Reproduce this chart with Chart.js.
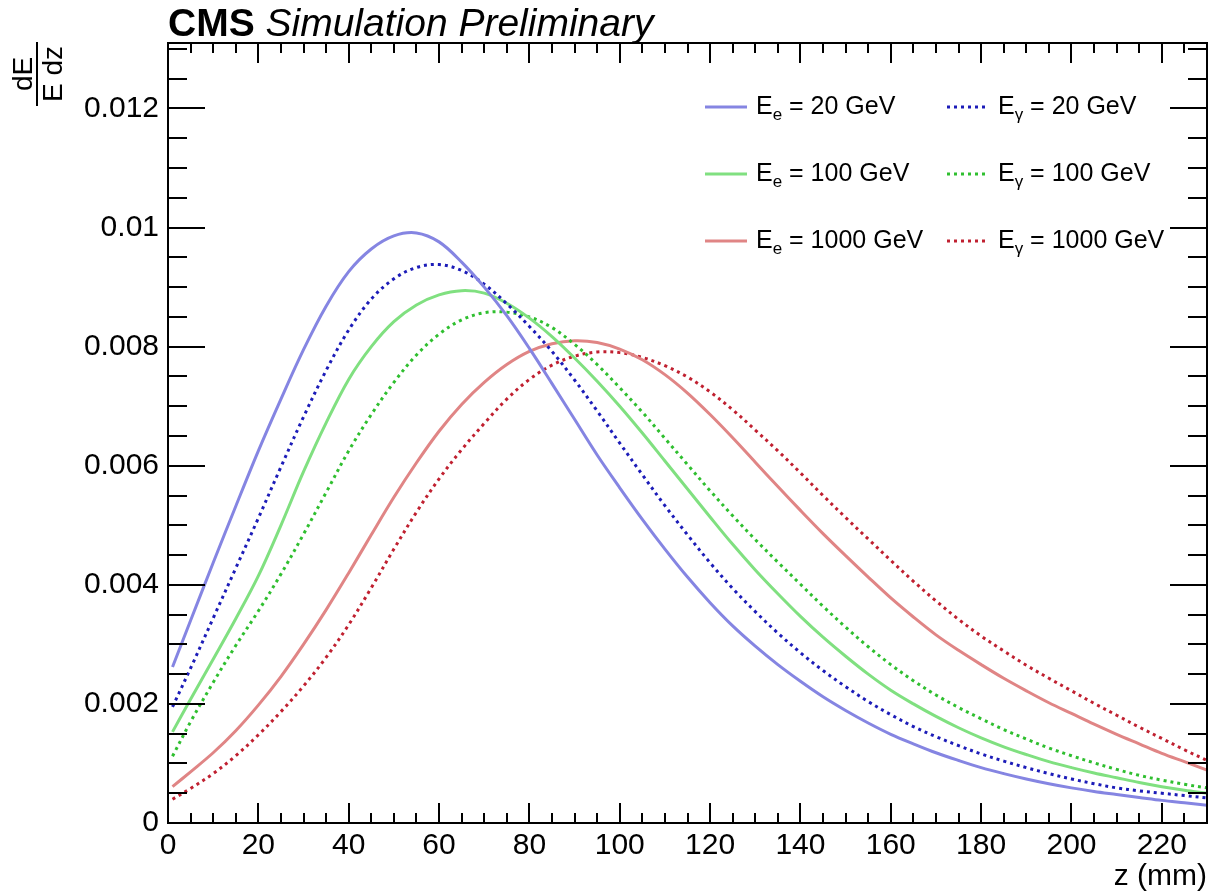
<!DOCTYPE html>
<html>
<head>
<meta charset="utf-8">
<script src="https://cdn.jsdelivr.net/npm/chart.js@4.4.1/dist/chart.umd.min.js"></script>
<style>
html,body{margin:0;padding:0;background:#ffffff;}
#wrap{width:1210px;height:891px;position:relative;}
</style>
</head>
<body>
<div id="wrap"><canvas id="c" width="1210" height="891"></canvas></div>
<script>
// ---- data ----
const zValues = [1,5,10,15,20,25,30,35,40,45,50,55,60,65,70,75,80,85,90,95,100,105,110,115,120,125,130,135,140,145,150,155,160,165,170,175,180,185,190,195,200,205,210,215,220,225,230];

const electron20 = [0.00262,0.00340,0.00437,0.00532,0.00625,0.00712,0.00795,0.00868,0.00926,0.00964,0.00986,0.00991,0.00976,0.00942,0.00900,0.00852,0.00797,0.00738,0.00678,0.00618,0.00563,0.00510,0.00460,0.00413,0.00370,0.00331,0.00297,0.00266,0.00238,0.00212,0.00189,0.00168,0.00149,0.00133,0.00118,0.00105,0.00093,0.00083,0.00074,0.00066,0.00059,0.00053,0.00048,0.00043,0.00038,0.00034,0.00030];
const photon20 = [0.00195,0.00260,0.00344,0.00428,0.00512,0.00598,0.00682,0.00760,0.00828,0.00880,0.00914,0.00933,0.00938,0.00928,0.00905,0.00872,0.00834,0.00792,0.00744,0.00692,0.00638,0.00585,0.00533,0.00484,0.00437,0.00394,0.00355,0.00319,0.00286,0.00256,0.00229,0.00204,0.00182,0.00162,0.00145,0.00130,0.00116,0.00104,0.00093,0.00083,0.00074,0.00066,0.00059,0.00054,0.00050,0.00046,0.00042];
const electron100 = [0.00153,0.00208,0.00275,0.00343,0.00415,0.00500,0.00590,0.00672,0.00745,0.00800,0.00842,0.00870,0.00887,0.00894,0.00890,0.00873,0.00848,0.00817,0.00781,0.00742,0.00700,0.00655,0.00608,0.00561,0.00514,0.00468,0.00425,0.00385,0.00347,0.00312,0.00280,0.00250,0.00223,0.00200,0.00179,0.00160,0.00143,0.00128,0.00115,0.00103,0.00093,0.00084,0.00076,0.00068,0.00061,0.00055,0.00050];
const photon100 = [0.00112,0.00170,0.00236,0.00298,0.00356,0.00418,0.00485,0.00555,0.00625,0.00686,0.00740,0.00786,0.00821,0.00845,0.00857,0.00858,0.00850,0.00832,0.00804,0.00770,0.00731,0.00690,0.00646,0.00602,0.00558,0.00516,0.00476,0.00438,0.00401,0.00364,0.00329,0.00296,0.00266,0.00239,0.00215,0.00194,0.00175,0.00157,0.00141,0.00126,0.00113,0.00101,0.00090,0.00080,0.00072,0.00065,0.00059];
const electron1000 = [0.00061,0.00086,0.00118,0.00155,0.00198,0.00246,0.00300,0.00358,0.00420,0.00484,0.00547,0.00605,0.00658,0.00703,0.00740,0.00770,0.00792,0.00805,0.00810,0.00807,0.00796,0.00778,0.00753,0.00722,0.00686,0.00647,0.00606,0.00565,0.00525,0.00486,0.00449,0.00413,0.00378,0.00346,0.00316,0.00290,0.00266,0.00243,0.00222,0.00202,0.00184,0.00166,0.00149,0.00133,0.00117,0.00103,0.00089];
const photon1000 = [0.00040,0.00058,0.00083,0.00113,0.00148,0.00187,0.00230,0.00278,0.00333,0.00395,0.00460,0.00522,0.00578,0.00627,0.00671,0.00712,0.00745,0.00769,0.00784,0.00791,0.00790,0.00782,0.00768,0.00749,0.00724,0.00694,0.00660,0.00625,0.00588,0.00550,0.00513,0.00477,0.00441,0.00406,0.00373,0.00342,0.00314,0.00289,0.00265,0.00243,0.00222,0.00201,0.00181,0.00161,0.00142,0.00123,0.00105];

const seriesNames = ['E_e = 20 GeV','E_γ = 20 GeV','E_e = 100 GeV','E_γ = 100 GeV','E_e = 1000 GeV','E_γ = 1000 GeV'];
const legendSub = ['e','γ','e','γ','e','γ'];
const legendRest = [' = 20 GeV',' = 20 GeV',' = 100 GeV',' = 100 GeV',' = 1000 GeV',' = 1000 GeV'];

const xTickValues = [0,20,40,60,80,100,120,140,160,180,200,220];
const xTickLabels = ['0','20','40','60','80','100','120','140','160','180','200','220'];
const yTickValues = [0,0.002,0.004,0.006,0.008,0.010,0.012];
const yTickLabels = ['0','0.002','0.004','0.006','0.008','0.01','0.012'];
const xRange = [0, 230];
const yRange = [0, 0.0131];

// ---- styles ----
const colors = ['#8585e2','#1c1cb8','#80e080','#2fbf2f','#e08585','#c02030'];
const dashed = [false,true,false,true,false,true];
const seriesData = [electron20, photon20, electron100, photon100, electron1000, photon1000];

const FONT = '"Liberation Sans", Arial, Helvetica, sans-serif';

const datasets = seriesData.map((arr, i) => ({
  label: seriesNames[i],
  data: zValues.map((z, k) => ({x: z, y: arr[k]})),
  borderColor: colors[i],
  backgroundColor: colors[i],
  borderWidth: 3,
  borderDash: dashed[i] ? [3, 4] : [],
  borderCapStyle: 'butt',
  pointRadius: 0,
  fill: false,
  tension: 0.35
}));

const decorPlugin = {
  id: 'decor',
  afterDraw(chart) {
    const ctx = chart.ctx;
    const a = chart.chartArea;
    const xs = chart.scales.x, ys = chart.scales.y;
    ctx.save();
    // frame
    ctx.strokeStyle = '#000';
    ctx.lineWidth = 2;
    ctx.setLineDash([]);
    ctx.strokeRect(a.left, a.top, a.right - a.left, a.bottom - a.top);
    // ticks
    ctx.beginPath();
    const xStep = 20, yStep = 0.002;
    for (let v = xRange[0]; v <= xRange[1] + 1e-9; v += xStep / 4) {
      const p = Math.round(xs.getPixelForValue(v));
      const major = Math.abs(v / xStep - Math.round(v / xStep)) < 1e-6;
      const L = major ? 20 : 10;
      ctx.moveTo(p, a.bottom); ctx.lineTo(p, a.bottom - L);
      ctx.moveTo(p, a.top); ctx.lineTo(p, a.top + L);
    }
    for (let k = 0; ; k++) {
      const v = k * yStep / 4;
      if (v > yRange[1] + 1e-12) break;
      const p = Math.round(ys.getPixelForValue(v));
      const major = k % 4 === 0;
      const L = major ? 37 : 19;
      ctx.moveTo(a.left, p); ctx.lineTo(a.left + L, p);
      ctx.moveTo(a.right, p); ctx.lineTo(a.right - L, p);
    }
    ctx.stroke();

    // title
    ctx.fillStyle = '#000';
    ctx.textAlign = 'left';
    ctx.textBaseline = 'alphabetic';
    ctx.font = 'bold 39px ' + FONT;
    ctx.fillText('CMS', 168, 36);
    const w = ctx.measureText('CMS ').width;
    ctx.font = 'italic 39px ' + FONT;
    ctx.fillText('Simulation Preliminary', 168 + w, 36);

    // x axis title
    ctx.font = '30px ' + FONT;
    ctx.textAlign = 'right';
    ctx.fillText('z (mm)', a.right, 885);

    // y axis title (fraction, rotated)
    ctx.save();
    ctx.translate(37, 74);
    ctx.rotate(-Math.PI / 2);
    ctx.font = '28px ' + FONT;
    ctx.textAlign = 'center';
    ctx.textBaseline = 'alphabetic';
    ctx.fillText('dE', 0, -5);
    ctx.textBaseline = 'top';
    ctx.fillText('E dz', 0, 3);
    ctx.lineWidth = 2;
    ctx.beginPath();
    ctx.moveTo(-32, 0); ctx.lineTo(32, 0);
    ctx.stroke();
    ctx.restore();

    // legend
    const colX = [705, 947];
    const rowY = [107, 174, 241];
    chart.data.datasets.forEach((ds, i) => {
      const col = i % 2, row = Math.floor(i / 2);
      const x = colX[col], y = rowY[row];
      ctx.save();
      ctx.strokeStyle = ds.borderColor;
      ctx.lineWidth = ds.borderWidth;
      ctx.setLineDash(ds.borderDash);
      ctx.lineCap = 'butt';
      ctx.beginPath();
      ctx.moveTo(x, y); ctx.lineTo(x + 42, y);
      ctx.stroke();
      ctx.restore();
      let tx = x + 51;
      const base = y + 7;
      ctx.fillStyle = '#000';
      ctx.textAlign = 'left';
      ctx.textBaseline = 'alphabetic';
      ctx.font = '25px ' + FONT;
      ctx.fillText('E', tx, base);
      tx += ctx.measureText('E').width;
      ctx.font = '17px ' + FONT;
      ctx.fillText(legendSub[i], tx, base + 6);
      tx += ctx.measureText(legendSub[i]).width;
      ctx.font = '25px ' + FONT;
      ctx.fillText(legendRest[i], tx, base);
    });
    ctx.restore();
  }
};

new Chart(document.getElementById('c'), {
  type: 'line',
  data: { datasets },
  options: {
    responsive: false,
    animation: false,
    devicePixelRatio: 1,
    layout: { padding: { top: 43, right: 3, left: 0, bottom: 0 } },
    plugins: { legend: { display: false }, title: { display: false }, tooltip: { enabled: false } },
    scales: {
      x: {
        type: 'linear',
        min: xRange[0], max: xRange[1],
        border: { display: false },
        grid: { display: false, drawTicks: false },
        afterBuildTicks: (s) => { s.ticks = xTickValues.map(v => ({ value: v })); },
        afterFit: (s) => { s.height = 68; },
        ticks: {
          padding: 5,
          color: '#000',
          font: { family: FONT, size: 30 },
          maxRotation: 0, autoSkip: false,
          callback: (v) => { const i = xTickValues.indexOf(v); return i >= 0 ? xTickLabels[i] : ''; }
        }
      },
      y: {
        type: 'linear',
        min: yRange[0], max: yRange[1],
        border: { display: false },
        grid: { display: false, drawTicks: false },
        afterBuildTicks: (s) => { s.ticks = yTickValues.map(v => ({ value: v })); },
        afterFit: (s) => { s.width = 168; },
        ticks: {
          padding: 9,
          color: '#000',
          font: { family: FONT, size: 30 },
          autoSkip: false,
          callback: (v) => { const i = yTickValues.findIndex(t => Math.abs(t - v) < 1e-9); return i >= 0 ? yTickLabels[i] : ''; }
        }
      }
    }
  },
  plugins: [decorPlugin]
});
</script>
</body>
</html>
